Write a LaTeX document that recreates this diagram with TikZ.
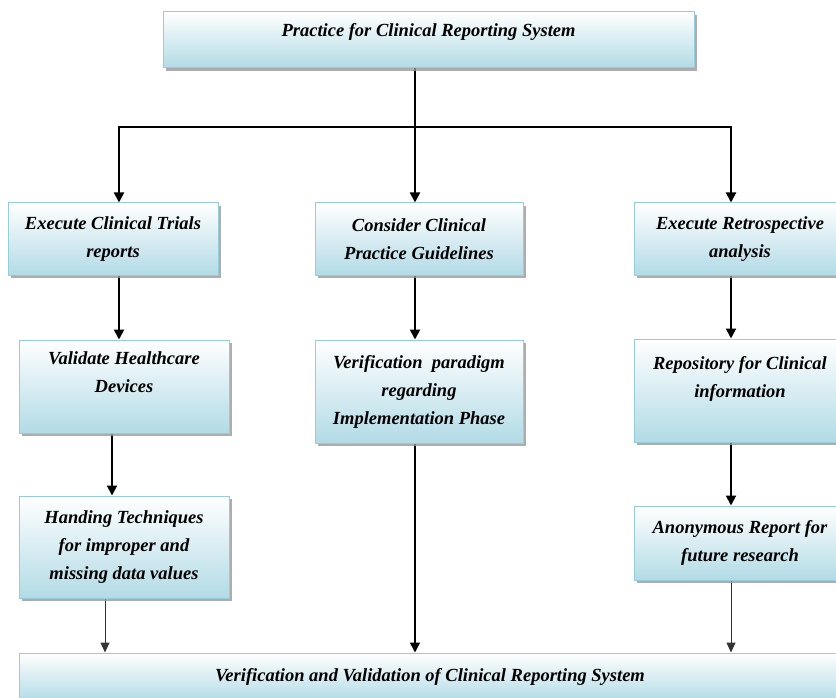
\documentclass[tikz,border=0pt]{standalone}
\usepackage{fontspec}
\setmainfont{Liberation Serif}
\usetikzlibrary{shadows,arrows.meta}
\pgfdeclarelayer{edgelayer}
\pgfdeclarelayer{nodelayer}
\pgfsetlayers{edgelayer,nodelayer,main}
\definecolor{boxline}{RGB}{150,205,222}
\definecolor{boxfill}{RGB}{178,219,230}
\tikzset{font=\fontsize{18.5}{28}\selectfont\bfseries\itshape}
\tikzstyle{box}=[rectangle,draw=boxline,line width=1pt,top color=white,middle color=boxfill!40,bottom color=boxfill,align=center,inner sep=0pt,drop shadow={shadow xshift=3pt,shadow yshift=-3pt,fill=black!40,opacity=.8}]
\tikzstyle{thick arrow}=[line width=2pt,-{Triangle[length=10pt,width=10pt]}]
\tikzstyle{thin arrow}=[line width=1pt,black!80,-{Triangle[length=10pt,width=9pt]}]

\begin{document}
\begin{tikzpicture}[x=1pt,y=-1pt]
	\useasboundingbox (0,0) rectangle (836,698);
	\begin{pgfonlayer}{nodelayer}
		\node [style=box, minimum width=531pt, minimum height=56pt, text depth=20pt] (practice) at (428.5, 40) {Practice for Clinical Reporting System};
		\node [style=box, minimum width=210pt, minimum height=72pt] (trials) at (113, 239) {Execute Clinical Trials\\reports};
		\node [style=box, minimum width=208pt, minimum height=72pt] (guide) at (419, 239) {Consider Clinical\\Practice Guidelines};
		\node [style=box, minimum width=212pt, minimum height=72pt] (retro) at (740, 239) {Execute Retrospective\\analysis};
		\node [style=box, minimum width=210pt, minimum height=93pt] (devices) at (124, 386.5) {Validate Healthcare\\Devices\\~};
		\node [style=box, minimum width=208pt, minimum height=103pt] (paradigm) at (419, 391.5) {Verification\ \ paradigm\\regarding\\Implementation Phase};
		\node [style=box, minimum width=212pt, minimum height=103pt] (repo) at (740, 390.5) {Repository for Clinical\\information\\~};
		\node [style=box, minimum width=210pt, minimum height=102pt] (handling) at (124, 547) {Handing Techniques\\for improper and\\missing data values};
		\node [style=box, minimum width=212pt, minimum height=74pt] (anon) at (740, 543) {Anonymous Report for\\future research};
		\node [style=box, minimum width=822pt, minimum height=48pt] (verif) at (430, 677) {Verification and Validation of Clinical Reporting System};
		\coordinate (hub) at (415, 127);
	\end{pgfonlayer}
	\begin{pgfonlayer}{edgelayer}
		\draw[line width=2pt] (practice.south -| hub) to (hub);
		\draw[style=thick arrow] (hub) -| ([xshift=6pt]trials.north);
		\draw[style=thick arrow] (hub) to (hub |- guide.north);
		\draw[style=thick arrow] (hub) -| ([xshift=-9pt]retro.north);
		\draw[style=thick arrow] ([xshift=6pt]trials.south) to ([xshift=6pt]trials.south |- devices.north);
		\draw[style=thick arrow] ([xshift=-12pt]devices.south) to ([xshift=-12pt]handling.north);
		\draw[style=thin arrow] ([xshift=-19pt]handling.south) to ([xshift=-19pt]handling.south |- verif.north);
		\draw[style=thick arrow] ([xshift=-4pt]guide.south) to ([xshift=-4pt]paradigm.north);
		\draw[style=thick arrow, line width=1.5pt] ([xshift=-4pt]paradigm.south) to ([xshift=-4pt]paradigm.south |- verif.north);
		\draw[style=thick arrow] ([xshift=-9pt]retro.south) to ([xshift=-9pt]repo.north);
		\draw[style=thick arrow] ([xshift=-9pt]repo.south) to ([xshift=-9pt]anon.north);
		\draw[style=thin arrow] ([xshift=-9pt]anon.south) to ([xshift=-9pt]anon.south |- verif.north);
	\end{pgfonlayer}
\end{tikzpicture}
\end{document}
